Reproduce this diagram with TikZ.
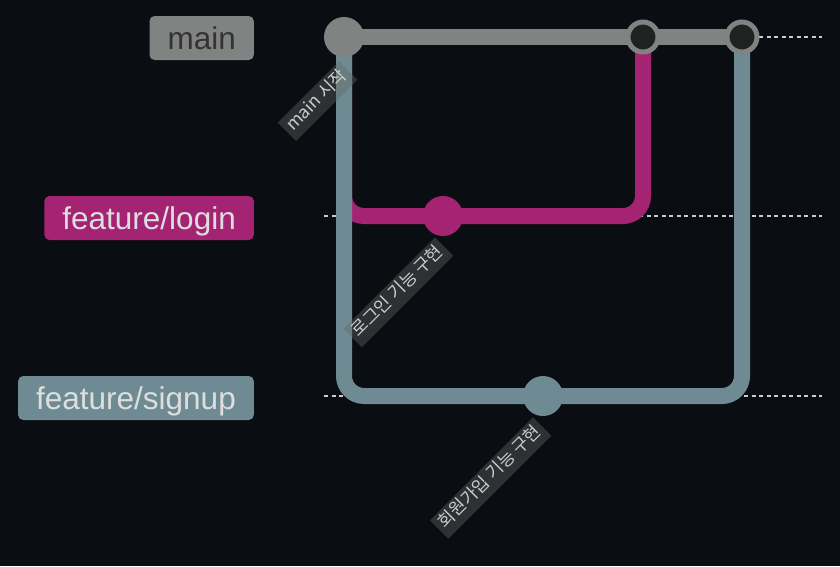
\documentclass[tikz,border=0pt]{standalone}
\usepackage{fontspec}
\setmainfont{Liberation Sans}
\newfontfamily\kofont{Noto Sans CJK KR}
\definecolor{bgdark}{RGB}{10,13,18}
\definecolor{gitmain}{RGB}{128,131,130}
\definecolor{gitlogin}{RGB}{165,35,115}
\definecolor{gitsignup}{RGB}{110,139,147}
\definecolor{mergefill}{RGB}{32,34,33}
\definecolor{lanegray}{RGB}{204,204,204}
\definecolor{tagtext}{RGB}{222,222,222}
\definecolor{msgfill}{RGB}{100,103,101}
\begin{document}
\begin{tikzpicture}[x=1pt,y=-1pt,
    branch/.style={line width=16pt},
    lane/.style={lanegray,line width=1.5pt,dash pattern=on 4pt off 3.5pt},
    commit/.style={circle,inner sep=0pt,minimum size=40pt,fill=#1},
    mergept/.style={circle,inner sep=0pt,minimum size=30pt,fill=mergefill,draw=gitmain,line width=5pt},
    tag/.style={rounded corners=5pt,fill=#1,inner xsep=18pt,inner ysep=0pt,minimum height=44pt,
        text height=25pt,text depth=3pt,font=\fontsize{31.5}{36}\selectfont,anchor=east},
    msg/.style={rotate=45,anchor=north east,fill=msgfill,fill opacity=0.4,text opacity=1,text=lanegray,
        font=\kofont\fontsize{17.5}{20}\selectfont,inner xsep=4.5pt,inner ysep=0pt,minimum height=26pt,
        text height=12.5pt,text depth=4pt}]
\fill[bgdark] (0,0) rectangle (840,566);
% lanes
\coordinate (mainL) at (324,37);
\coordinate (mainR) at (822,37);
\coordinate (loginL) at (324,216);
\coordinate (loginR) at (822,216);
\coordinate (signupL) at (324,396);
\coordinate (signupR) at (822,396);
\draw[lane] (mainL) -- (mainR);
\draw[lane] (loginL) -- (loginR);
\draw[lane] (signupL) -- (signupR);
% branch names
\node[tag=gitmain,text={rgb,255:red,51;green,51;blue,51}] (bmain) at (254,38) {main};
\node[tag=gitlogin,text=tagtext] (blogin) at (254,218) {feature/login};
\node[tag=gitsignup,text=tagtext] (bsignup) at (254,398) {feature/signup};
% commits
\coordinate (c0) at (344,37);
\coordinate (cL) at (443,216);
\coordinate (cS) at (543,396);
\coordinate (m1) at (643,37);
\coordinate (m2) at (742,37);
\draw[branch,gitlogin,rounded corners=20pt] (c0) |- (cL) -| (m1);
\draw[branch,gitsignup,rounded corners=20pt] (c0) |- (cS) -| (m2);
\draw[branch,gitmain] (c0) -- (m2);
\node[commit=gitmain] (n0) at (c0) {};
\node[commit=gitlogin] (nL) at (cL) {};
\node[commit=gitsignup] (nS) at (cS) {};
\node[mergept] (nm1) at (m1) {};
\node[mergept] (nm2) at (m2) {};
% messages
\node[msg] (t0) at ([shift={(-5,24)}]n0.center) {main 시작};
\node[msg] (tL) at ([shift={(-8,21)}]nL.center) {로그인 기능 구현};
\node[msg] (tS) at ([shift={(-10,21)}]nS.center) {회원가입 기능 구현};
\end{tikzpicture}
\end{document}
